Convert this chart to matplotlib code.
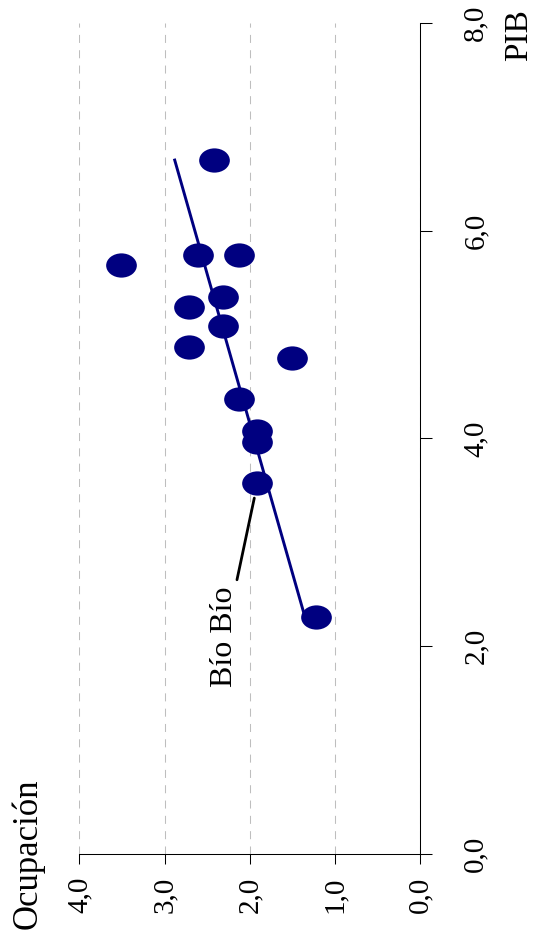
import matplotlib
matplotlib.use('Agg')
import matplotlib.pyplot as plt
import numpy as np
from matplotlib.path import Path
from matplotlib.transforms import Affine2D

plt.rcParams['font.family'] = ['Liberation Serif', 'DejaVu Serif']

# ======================
# Datos (gráfico girado: PIB vertical, Ocupación horizontal invertida)
# ======================
pib = [6.68, 5.67, 5.77, 5.77, 5.36, 5.27, 5.08, 4.88, 4.77, 4.38, 4.07, 3.97, 3.57, 2.28]
ocupacion = [2.42, 3.51, 2.61, 2.13, 2.31, 2.71, 2.31, 2.71, 1.51, 2.13, 1.91, 1.91, 1.91, 1.22]
region_etiqueta = 'Bío Bío'
idx_etiqueta = 12

pib_ticks = [0, 2, 4, 6, 8]
pib_labels = ['0,0', '2,0', '4,0', '6,0', '8,0']
ocup_ticks = [4, 3, 2, 1, 0]
ocup_labels = ['4,0', '3,0', '2,0', '1,0', '0,0']

AZUL = '#000080'

# marcador elíptico (más ancho que alto)
elipse = Path.unit_circle().transformed(Affine2D().scale(1.0, 0.79))

fig = plt.figure(figsize=(5.35, 9.33), dpi=100)
ax = fig.add_axes([0.1482, 0.0847, 0.6374, 0.8907])

# recta de tendencia (mínimos cuadrados)
b, a = np.polyfit(pib, ocupacion, 1)
pib_linea = np.array([min(pib), max(pib)])
ax.plot(a + b * pib_linea, pib_linea, color=AZUL, lw=2.1, zorder=2)

ax.plot(ocupacion, pib, linestyle='none', marker=elipse, markersize=22.1,
        color=AZUL, markeredgewidth=0, zorder=3)

# etiqueta de la región
ax.annotate(region_etiqueta, xy=(ocupacion[idx_etiqueta], pib[idx_etiqueta]),
            xytext=(2.30, 2.09), textcoords='data', rotation=90,
            ha='center', va='center', fontsize=23,
            arrowprops=dict(arrowstyle='-', color='black', lw=2,
                            shrinkA=3, shrinkB=11, relpos=(0.89, 1.0)))

ax.set_xlim(4, 0)
ax.set_ylim(0, 8)

for lado in ['top', 'left']:
    ax.spines[lado].set_visible(False)
for lado in ['bottom', 'right']:
    ax.spines[lado].set_linewidth(0.75)

ax.yaxis.tick_right()
ax.set_yticks(pib_ticks, labels=pib_labels)
ax.set_xticks(ocup_ticks, labels=ocup_labels)
ax.tick_params(axis='y', direction='out', length=8.5, width=0.75, pad=22,
               labelsize=21, labelrotation=90)
ax.tick_params(axis='x', direction='out', length=7.2, width=0.75, pad=9,
               labelsize=21, labelrotation=90)
for lab in ax.get_yticklabels():
    lab.set_va('center')

ax.grid(axis='x', color='#bebebe', linestyle=(0, (7.7, 7.0)), lw=0.75)
ax.set_axisbelow(True)

fig.text(27.5 / 535, 1 - 853.5 / 933, 'Ocupación', rotation=90,
         ha='center', va='center', fontsize=25)
fig.text(518.5 / 535, 1 - 35 / 933, 'PIB', rotation=90,
         ha='center', va='center', fontsize=24)

fig.savefig('out.png', dpi=100)
